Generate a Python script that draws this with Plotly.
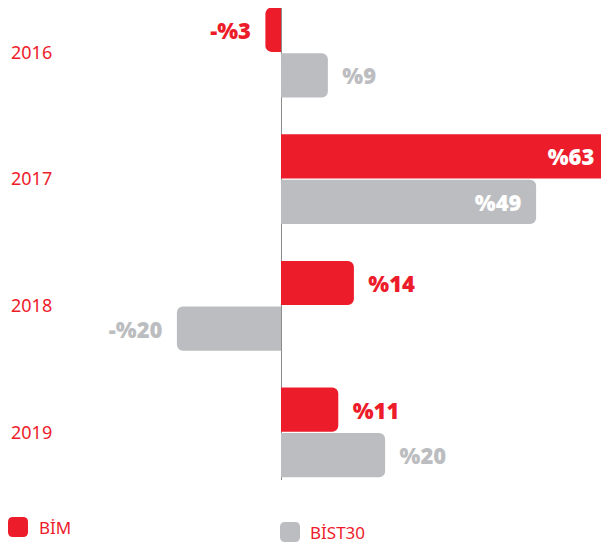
import plotly.graph_objects as go

years = ["2016", "2017", "2018", "2019"]
bim = [-3, 63, 14, 11]
bist30 = [9, 49, -20, 20]
series_names = ["BİM", "BİST30"]

RED = "#ED1C2B"
GREY = "#BCBDC0"
NB = "\u00a0"

# page body has an 8px margin: the figure is sized to fit the 609x545 window
W, H = 601, 537
PLOT_H = 472


def fmt(v):
    return ("-%" + str(abs(v))) if v < 0 else ("%" + str(v))


def labels(vals, inside_idx):
    out = []
    for i, v in enumerate(vals):
        t = fmt(v)
        if i in inside_idx or v < 0:
            out.append(t + NB * 2)
        else:
            out.append(NB * 2 + t)
    return out


def positions(vals, inside_idx):
    return ["inside" if i in inside_idx else "outside" for i in range(len(vals))]


fig = go.Figure()
for name, vals, color, inside_idx in [
    (series_names[0], bim, RED, {1}),
    (series_names[1], bist30, GREY, {1}),
]:
    fig.add_trace(go.Bar(
        name=name, y=years, x=vals, orientation="h",
        marker=dict(color=color, line=dict(width=0)),
        text=labels(vals, inside_idx),
        textposition=positions(vals, inside_idx),
        insidetextanchor="end",
        constraintext="none",
        insidetextfont=dict(color="white", size=22, family="Open Sans", weight=800),
        outsidetextfont=dict(color=color, size=22, family="Open Sans", weight=800),
        cliponaxis=False,
        hoverinfo="skip",
    ))

fig.update_layout(
    width=W, height=H,
    margin=dict(l=0, r=0, t=0, b=H - PLOT_H, autoexpand=False),
    paper_bgcolor="white", plot_bgcolor="white",
    barmode="group", bargap=0.28, bargroupgap=0.03,
    barcornerradius=6,
    showlegend=False,
    xaxis=dict(range=[-52.44, 63], showgrid=False, showticklabels=False, automargin=False,
               zeroline=True, zerolinecolor="#8C8C8C", zerolinewidth=1, fixedrange=True),
    yaxis=dict(type="category", categoryorder="array", categoryarray=years,
               range=[3.376, -0.352], showgrid=False, zeroline=False, automargin=False,
               ticks="", ticklabelposition="inside", ticklabelstandoff=0,
               tickfont=dict(color=RED, size=18, family="Noto Sans")),
)

# Legend swatches (rounded squares) and labels
rr = "M -10,-5 Q -10,-10 -5,-10 L 5,-10 Q 10,-10 10,-5 L 10,5 Q 10,10 5,10 L -5,10 Q -10,10 -10,5 Z"
for name, color, cx, cy, tx in [
    (series_names[0], RED, 10, 519, 29),
    (series_names[1], GREY, 282, 524, 300),
]:
    fig.add_shape(type="path", xref="paper", yref="paper",
                  xsizemode="pixel", ysizemode="pixel",
                  xanchor=cx / W, yanchor=1 - cy / PLOT_H,
                  path=rr, fillcolor=color, line=dict(width=0))
    fig.add_annotation(text=name, xref="paper", yref="paper",
                       x=tx / W, y=1 - cy / PLOT_H, xanchor="left", yanchor="middle",
                       showarrow=False, font=dict(color=RED, size=17, family="Noto Sans"))

fig.write_html("out.html")
